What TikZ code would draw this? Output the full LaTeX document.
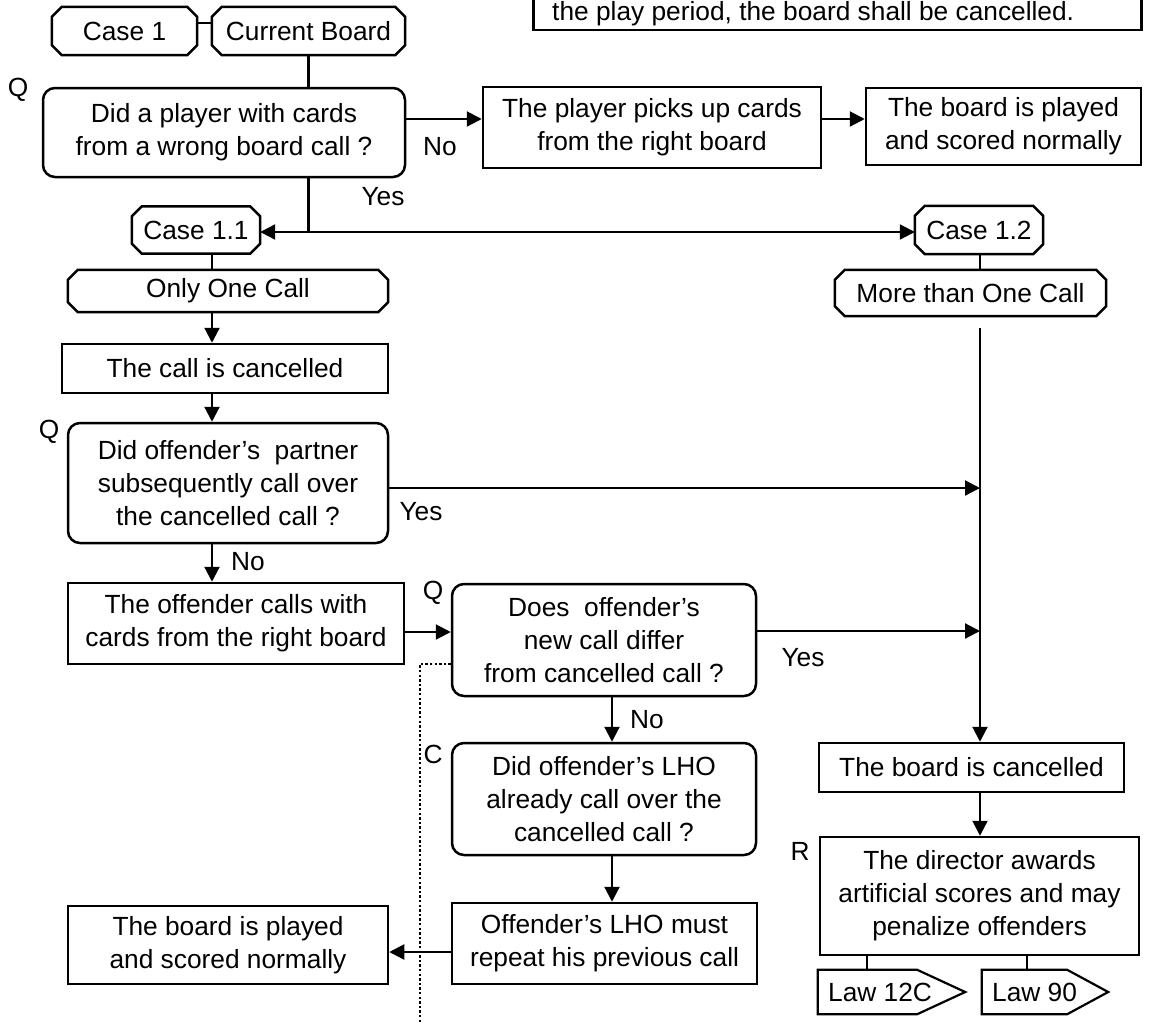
\documentclass[tikz,border=0pt]{standalone}
\usepackage{fontspec}
\setmainfont{Liberation Sans}
\usetikzlibrary{arrows.meta}

% octagonal label outline around a named node
\newcommand\chamferbox[1]{%
  \draw[frame] ([xshift=10pt]#1.north west) -- ([xshift=-10pt]#1.north east)
    -- ([yshift=-10pt]#1.north east) -- ([yshift=10pt]#1.south east)
    -- ([xshift=-10pt]#1.south east) -- ([xshift=10pt]#1.south west)
    -- ([yshift=10pt]#1.south west) -- ([yshift=-10pt]#1.north west) -- cycle;}
% pointer-shaped reference tag: body node plus a tip of length #2
\newcommand\lawsign[2]{%
  \draw[frame, line width=2.2pt] (#1.north west) -- (#1.north east)
    -- ([xshift=#2]#1.east) -- (#1.south east) -- (#1.south west) -- cycle;}

\begin{document}
\begin{tikzpicture}[x=1pt,y=-1pt,
  every node/.style={font=\fontsize{26.3}{33}\selectfont, align=center},
  frame/.style={draw, line width=2.5pt, line join=miter},
  box/.style={frame, rectangle, inner sep=0pt},
  rbox/.style={box, rounded corners=12pt},
  cbox/.style={rectangle, inner sep=0pt},
  lawbody/.style={rectangle, inner sep=0pt, minimum height=44pt},
  link/.style={line width=2.2pt},
  tip/.tip={Triangle[length=15pt,width=15pt]},
  arr/.style={link, -tip},
  arrboth/.style={link, tip-tip},
  dotline/.style={line width=2.3pt, dash pattern=on 2.3pt off 2.3pt},
]
\useasboundingbox (0,0) rectangle (1153,1023);
\clip (0,0) rectangle (1153,1023);
\fill[white] (0,0) rectangle (1153,1023);

% note box running off the top edge
\node[box, anchor=south west, minimum width=608pt, minimum height=90pt] (note) at (532,31) {};
\node[anchor=base west, inner sep=0pt] (notetxt) at (552,20) {the play period, the board shall be cancelled.};

% case 1 header
\node[cbox, minimum width=145pt, minimum height=48pt] (case1) at (124.5,31) {Case 1};
\node[cbox, minimum width=193pt, minimum height=48pt] (curb) at (308.5,31) {Current Board};
\chamferbox{case1}
\chamferbox{curb}
\draw[link] ([yshift=8pt]case1.east) -- ([yshift=8pt]curb.west);

% first question
\node[rbox, minimum width=362pt, minimum height=89pt] (q1) at (224,132.5) {Did a player with cards\\from a wrong board call ?};
\node (lq1) at (18,90) {Q};
\draw[link] (curb.south) -- (curb.south |- q1.north);

\node[box, minimum width=338pt, minimum height=81pt] (pick) at (652,127.5) {The player picks up cards\\from the right board};
\node[box, minimum width=275pt, minimum height=77pt] (play1) at (1003.5,126.5) {The board is played\\and scored normally};
\draw[arr] (q1.east |- 0,119) -- (pick.west |- 0,119);
\draw[arr] (pick.east |- 0,119) -- (play1.west |- 0,119);
\node (no1) at (440,147) {No};

% split into the two cases
\node[cbox, minimum width=128pt, minimum height=47pt] (c11) at (196,230) {Case 1.1};
\node[cbox, minimum width=128pt, minimum height=48pt] (c12) at (979,230) {Case 1.2};
\chamferbox{c11}
\chamferbox{c12}
\draw[arrboth] (c11.east |- 0,232) -- (c12.west |- 0,232);
\draw[link] (q1.south -| curb.south) -- (curb.south |- 0,232);
\node (yes1) at (383,197) {Yes};

\node[cbox, minimum width=320pt, minimum height=42pt] (only) at (228,291) {Only One Call};
\node[cbox, minimum width=271pt, minimum height=46pt] (more) at (970.5,293) {More than One Call};
\chamferbox{only}
\chamferbox{more}
\draw[link] (c11.south -| 212,0) -- (only.north -| 212,0);
\draw[link] (c12.south -| 980,0) -- (more.north -| 980,0);

% left branch
\node[box, minimum width=326pt, minimum height=49pt] (callc) at (225,368.5) {The call is cancelled};
\draw[arr] (only.south -| 212,0) -- (callc.north -| 212,0);

\node[rbox, minimum width=320pt, minimum height=120pt] (q2) at (228,483) {Did offender’s\ \ partner\\subsequently call over\\the cancelled call ?};
\node (lq2) at (49,432) {Q};
\draw[arr] (callc.south -| 212,0) -- (q2.north -| 212,0);

% right column
\coordinate (rtop) at (980,328);
\node[box, minimum width=305pt, minimum height=49pt] (bcanc) at (971.5,767.5) {The board is cancelled};
\draw[arr] (rtop) -- (rtop |- bcanc.north);

\draw[arr] (q2.east |- 0,488) -- (rtop |- 0,488);
\node (yes2) at (421,512) {Yes};

\node[box, minimum width=336pt, minimum height=81pt] (offc) at (236,623.5) {The offender calls with\\cards from the right board};
\draw[arr] (q2.south -| 212,0) -- (offc.north -| 212,0);
\node (no2) at (248,562) {No};

\node[rbox, minimum width=304pt, minimum height=112pt] (q3) at (604,640) {Does\ \ offender’s\\new call differ\\from cancelled call ?};
\node (lq3) at (433,593) {Q};
\draw[arr] (offc.east |- 0,632) -- (q3.west |- 0,632);
\draw[arr] (q3.east |- 0,631) -- (rtop |- 0,631);
\node (yes3) at (803,658) {Yes};

\node[rbox, minimum width=304pt, minimum height=112pt] (cq) at (604,799) {Did offender’s LHO\\already call over the\\cancelled call ?};
\node (lc) at (433,754) {C};
\draw[arr] (q3.south -| 612,0) -- (cq.north -| 612,0);
\node (no3) at (647,720) {No};

\node[box, minimum width=305pt, minimum height=81pt] (lho) at (604.5,943.5) {Offender’s LHO must\\repeat his previous call};
\draw[arr] (cq.south -| 612,0) -- (lho.north -| 612,0);

\node[box, minimum width=320pt, minimum height=78pt] (play2) at (228,945) {The board is played\\and scored normally};
\draw[arr] (lho.west |- 0,952) -- (play2.east |- 0,952);

\draw[dotline] (q3.west |- 0,664) -- (420,664) -- (420,1030);

% ruling
\node[box, minimum width=319pt, minimum height=118pt] (dir) at (979.5,896) {The director awards\\artificial scores and may\\penalize offenders};
\node (lr) at (800,851) {R};
\draw[arr] (bcanc.south -| rtop) -- (dir.north -| rtop);

% law references
\node[lawbody, minimum width=99pt] (law12) at (867.5,992) {};
\node[anchor=west, inner sep=0pt] (law12txt) at (828,992) {Law 12C};
\lawsign{law12}{48pt}
\node[lawbody, minimum width=85pt] (law90) at (1024.5,992) {};
\node[anchor=west, inner sep=0pt] (law90txt) at (992,992) {Law 90};
\lawsign{law90}{41pt}
\draw[link] (dir.south -| 867,0) -- (law12.north -| 867,0);
\draw[link] (dir.south -| 1027,0) -- (law90.north -| 1027,0);
\end{tikzpicture}
\end{document}
